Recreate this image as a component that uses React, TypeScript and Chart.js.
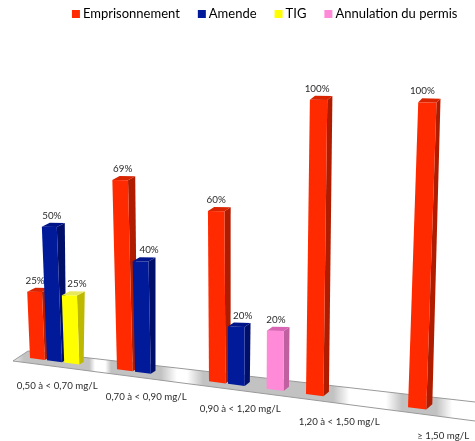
import React, { useEffect, useRef } from "react";
import { Chart, registerables } from "chart.js";

Chart.register(...registerables);

const categories = ["0,50 à < 0,70 mg/L", "0,70 à < 0,90 mg/L", "0,90 à < 1,20 mg/L", "1,20 à < 1,50 mg/L", "≥ 1,50 mg/L"];
const emprisonnement = [25, 69, 60, 100, 100];
const amende = [50, 40, 20, null, null];
const tig = [25, null, null, null, null];
const annulation = [null, null, 20, null, null];

const FONT = "Lato, Carlito, sans-serif";
const TEXT = "#2a2a2a";

type Look = { front: string; side: string; top: string };
const looks: Look[] = [
  { front: "#ff2a00", side: "#b01c00", top: "#d92400" },
  { front: "#001a9a", side: "#00106a", top: "#00148a" },
  { front: "#ffff00", side: "#bdb800", top: "#e8e85a" },
  { front: "#ff8ad8", side: "#c060a0", top: "#d865b4" },
];
// small horizontal nudges of the value labels, by dataset then category
const labelNudge = [
  [0.5, 2.5, 0, -1.5, -5],
  [2.5, 8.5, 6.5, 0, 0],
  [7.5, 0, 0, 0, 0],
  [0, 0, 0.5, 0, 0],
];

// perspective of the floor: where a position on the category axis lands
const floorX = (j: number) => 30 + 84.5 * j + 2.5 * j * j;
const floorY = (x: number) => 358 + 0.13 * (x - 30);
const unitHeight = (x: number) => 2.62 + 0.00105 * x;
const lean = (x: number) => (x - 240) * 0.0002;

const scene3d = {
  id: "scene3d",
  beforeDatasetDraw() {
    return false;
  },
  afterDatasetsDraw(chart: any) {
    const { ctx, chartArea: area } = chart;
    const cw = area.width / categories.length;
    const bars: any[] = [];
    chart.data.datasets.forEach((ds: any, di: number) => {
      chart.getDatasetMeta(di).data.forEach((el: any, i: number) => {
        if (ds.data[i] == null) return;
        const left = el.x - el.width / 2;
        const right = el.x + el.width / 2;
        const jl = (left - area.left) / cw - 0.113;
        const jr = (right - area.left) / cw - 0.113;
        const x = floorX(jl);
        const w = floorX(jr) - x;
        const pct = ((el.base - el.y) / area.height) * 100;
        bars.push({ di, i, x, w, pct, value: ds.data[i] });
      });
    });
    bars.sort((a, b) => a.x - b.x);

    // floor
    ctx.save();
    const spans: number[][] = [];
    bars.forEach((b) => {
      const s = [b.x - 6, b.x + b.w + 10];
      const last = spans[spans.length - 1];
      if (last && s[0] <= last[1] + 10) last[1] = Math.max(last[1], s[1]);
      else spans.push(s);
    });
    const grad = ctx.createLinearGradient(0, 0, 475, 0);
    const gray = "#c2c2c2";
    spans.forEach(([a, b]) => {
      grad.addColorStop(Math.max(0, (a - 16) / 475), "#ffffff");
      grad.addColorStop(Math.max(0, a / 475), gray);
      grad.addColorStop(Math.min(1, b / 475), gray);
      grad.addColorStop(Math.min(1, (b + 16) / 475), "#ffffff");
    });
    ctx.beginPath();
    ctx.moveTo(13, 361);
    ctx.lineTo(28, 351);
    ctx.lineTo(475, 402);
    ctx.lineTo(475, 421);
    ctx.closePath();
    ctx.fillStyle = grad;
    ctx.fill();
    ctx.beginPath();
    ctx.moveTo(475, 421);
    ctx.lineTo(13, 361);
    ctx.lineTo(28, 351);
    ctx.lineTo(475, 402);
    ctx.strokeStyle = "#9a9a9a";
    ctx.lineWidth = 1;
    ctx.stroke();
    ctx.restore();

    // bars, left to right so that each one hides its neighbour's side
    bars.forEach((b) => {
      const look = looks[b.di];
      const by = floorY(b.x);
      const h = b.pct * unitHeight(b.x);
      const tx = b.x + lean(b.x) * h;
      const ty = by - h;
      const topDx = 8.5 - 0.011 * b.x;
      const botDx = 4 + 0.005 * b.x;
      const botDy = 2 + 0.008 * b.x;
      const poly = (pts: number[][], fill: string) => {
        ctx.beginPath();
        pts.forEach((p, k) => (k ? ctx.lineTo(p[0], p[1]) : ctx.moveTo(p[0], p[1])));
        ctx.closePath();
        ctx.fillStyle = fill;
        ctx.fill();
      };
      const tl = [tx, ty];
      const tr = [tx + b.w, ty + b.w * 0.02];
      const bl = [b.x, by];
      const br = [b.x + b.w, by + b.w * 0.13];
      poly([tr, [tr[0] + topDx, tr[1] - 4], [br[0] + botDx, br[1] - botDy], br], look.side);
      poly([tl, [tl[0] + topDx, tl[1] - 4], [tr[0] + topDx, tr[1] - 4], tr], look.top);
      poly([tl, tr, br, bl], look.front);

      ctx.font = `9.8px ${FONT}`;
      ctx.fillStyle = TEXT;
      ctx.textAlign = "center";
      ctx.textBaseline = "middle";
      ctx.fillText(`${b.value}%`, tx + b.w / 2 + labelNudge[b.di][b.i], ty - 11);
    });

    // category labels follow the front edge of the floor
    ctx.font = `9.7px ${FONT}`;
    ctx.fillStyle = TEXT;
    ctx.textAlign = "center";
    ctx.textBaseline = "middle";
    chart.data.labels.forEach((label: string, i: number) => {
      const x = floorX(i + 0.4) - 7;
      ctx.fillText(label, x, floorY(x) + 24);
    });
  },
};

export default function App() {
  const ref = useRef<HTMLCanvasElement>(null);
  useEffect(() => {
    document.body.style.margin = "0";
    document.body.style.background = "#ffffff";
    const chart = new Chart(ref.current!, {
      type: "bar",
      data: {
        labels: categories,
        datasets: [
          { label: "Emprisonnement", data: emprisonnement, backgroundColor: looks[0].front },
          { label: "Amende", data: amende, backgroundColor: looks[1].front },
          { label: "TIG", data: tig, backgroundColor: looks[2].front },
          { label: "Annulation du permis", data: annulation, backgroundColor: looks[3].front },
        ] as any,
      },
      options: {
        animation: false,
        responsive: false,
        layout: { padding: { top: -14, right: -4 } },
        datasets: { bar: { categoryPercentage: 0.8, barPercentage: 0.87 } },
        scales: {
          x: { display: false },
          y: { display: false, min: 0, max: 100 },
        },
        plugins: {
          tooltip: { enabled: false },
          legend: {
            position: "top",
            align: "end",
            labels: {
              font: { family: FONT, size: 13 },
              color: TEXT,
              boxWidth: 1,
              boxHeight: 1,
              padding: 21.5,
              generateLabels(chart: any) {
                return chart.data.datasets.map((ds: any, i: number) => ({
                  text: ds.label,
                  fillStyle: ds.backgroundColor,
                  strokeStyle: ds.backgroundColor,
                  lineWidth: 7,
                  datasetIndex: i,
                  hidden: false,
                }));
              },
            },
          },
        },
      } as any,
      plugins: [scene3d],
    });
    return () => chart.destroy();
  }, []);
  return (
    <div style={{ width: 475, height: 441 }}>
      <canvas ref={ref} width={475} height={441} style={{ display: "block" }} />
    </div>
  );
}
